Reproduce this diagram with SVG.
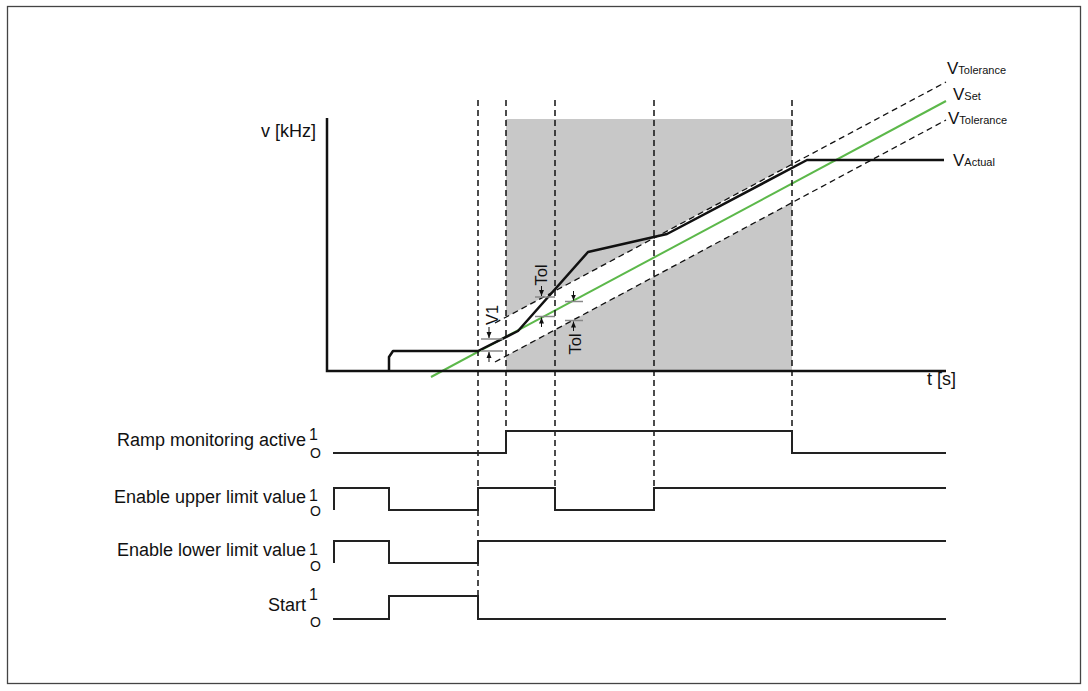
<svg xmlns="http://www.w3.org/2000/svg" width="1088" height="691" viewBox="0 0 1088 691">
<style>
text{font-family:"Liberation Sans",Arial,sans-serif;fill:#111}
.lbl{font-size:18px}
.one{font-size:16px}
.zero{font-size:14px}
.V{font-size:17px}
.sub{font-size:11px}
.dim{font-size:16.5px}
.sig{fill:none;stroke:#222;stroke-width:2}
.vd{fill:none;stroke:#111;stroke-width:1.5;stroke-dasharray:6 4}
.td{fill:none;stroke:#111;stroke-width:1.3;stroke-dasharray:6 4}
.tick{stroke:#888;stroke-width:1.5}
.arr{stroke:#111;stroke-width:1;marker-end:url(#ah)}
</style>
<defs>
<marker id="ah" markerUnits="userSpaceOnUse" markerWidth="6" markerHeight="6" refX="6" refY="3" orient="auto">
<path d="M0,0.5 L6,3 L0,5.5 z" fill="#111"/>
</marker>
</defs>
<rect x="7.5" y="6.5" width="1073" height="677" fill="#fff" stroke="#444" stroke-width="1.3"/>
<g id="chart">
<rect x="506" y="119" width="286" height="252" fill="#c8c8c8"/>
<polygon points="495,323 946,82 946,120 495,362" fill="#fff"/>
<path class="td" d="M495,323 L946,82"/>
<path class="td" d="M495,362 L946,120"/>
<path d="M431,377 L946,101" fill="none" stroke="#5cb84a" stroke-width="2"/>
<path d="M389,371 V357 L393,351 H478 L518,331 L588,252 L667,234 L807,160 H944" fill="none" stroke="#111" stroke-width="2.5" stroke-linejoin="round"/>
<path d="M327,118 V371 H946" fill="none" stroke="#111" stroke-width="2.5"/>
</g>
<g id="connectors">
<line class="vd" x1="478" y1="100" x2="478" y2="619"/>
<line class="vd" x1="506" y1="100" x2="506" y2="453"/>
<line class="vd" x1="555" y1="100" x2="555" y2="510"/>
<line class="vd" x1="654" y1="100" x2="654" y2="510"/>
<line class="vd" x1="792" y1="100" x2="792" y2="453"/>
</g>
<g id="dimensions">
<line class="tick" x1="481" y1="339" x2="503" y2="339"/>
<line class="tick" x1="481" y1="351" x2="503" y2="351"/>
<line class="arr" x1="489" y1="327" x2="489" y2="338"/>
<line class="arr" x1="489" y1="362" x2="489" y2="352"/>
<text class="dim" text-anchor="middle" transform="translate(498,315) rotate(-90)">V1</text>
<line class="tick" x1="535" y1="297" x2="555" y2="297"/>
<line class="tick" x1="535" y1="316.5" x2="555" y2="316.5"/>
<line class="arr" x1="541.5" y1="286" x2="541.5" y2="296"/>
<line class="arr" x1="541.5" y1="327" x2="541.5" y2="317.5"/>
<text class="dim" text-anchor="middle" transform="translate(547,275) rotate(-90)">Tol</text>
<line class="tick" x1="565" y1="301.5" x2="583" y2="301.5"/>
<line class="tick" x1="565" y1="320.5" x2="583" y2="320.5"/>
<line class="arr" x1="573.5" y1="291" x2="573.5" y2="300.5"/>
<line class="arr" x1="573.5" y1="331" x2="573.5" y2="321.5"/>
<text class="dim" text-anchor="middle" transform="translate(581,344) rotate(-90)">Tol</text>
</g>
<g id="axis-labels">
<text class="lbl" x="316" y="137" text-anchor="end">v [kHz]</text>
<text class="lbl" x="927" y="385">t [s]</text>
</g>
<g id="curve-labels">
<text x="947" y="74"><tspan class="V">V</tspan><tspan class="sub">Tolerance</tspan></text>
<text x="953" y="100"><tspan class="V">V</tspan><tspan class="sub">Set</tspan></text>
<text x="948" y="124"><tspan class="V">V</tspan><tspan class="sub">Tolerance</tspan></text>
<text x="953" y="166"><tspan class="V">V</tspan><tspan class="sub">Actual</tspan></text>
</g>
<g id="sig-ramp">
<text class="lbl" x="306" y="446" text-anchor="end">Ramp monitoring active</text>
<text class="one" x="309" y="440">1</text>
<text class="zero" x="310" y="458">O</text>
<path class="sig" d="M333,453 H506 V431 H792 V453 H946"/>
</g>
<g id="sig-upper">
<text class="lbl" x="306" y="503" text-anchor="end">Enable upper limit value</text>
<text class="one" x="309" y="501">1</text>
<text class="zero" x="310" y="516">O</text>
<path class="sig" d="M334,510 V488 H389 V510 H478 V488 H555 V510 H654 V488 H946"/>
</g>
<g id="sig-lower">
<text class="lbl" x="306" y="556" text-anchor="end">Enable lower limit value</text>
<text class="one" x="309" y="555">1</text>
<text class="zero" x="310" y="571">O</text>
<path class="sig" d="M334,563 V541 H389 V563 H478 V541 H946"/>
</g>
<g id="sig-start">
<text class="lbl" x="306" y="611" text-anchor="end">Start</text>
<text class="one" x="309" y="600">1</text>
<text class="zero" x="310" y="627">O</text>
<path class="sig" d="M333,619 H389 V596 H478 V619 H946"/>
</g>
</svg>
